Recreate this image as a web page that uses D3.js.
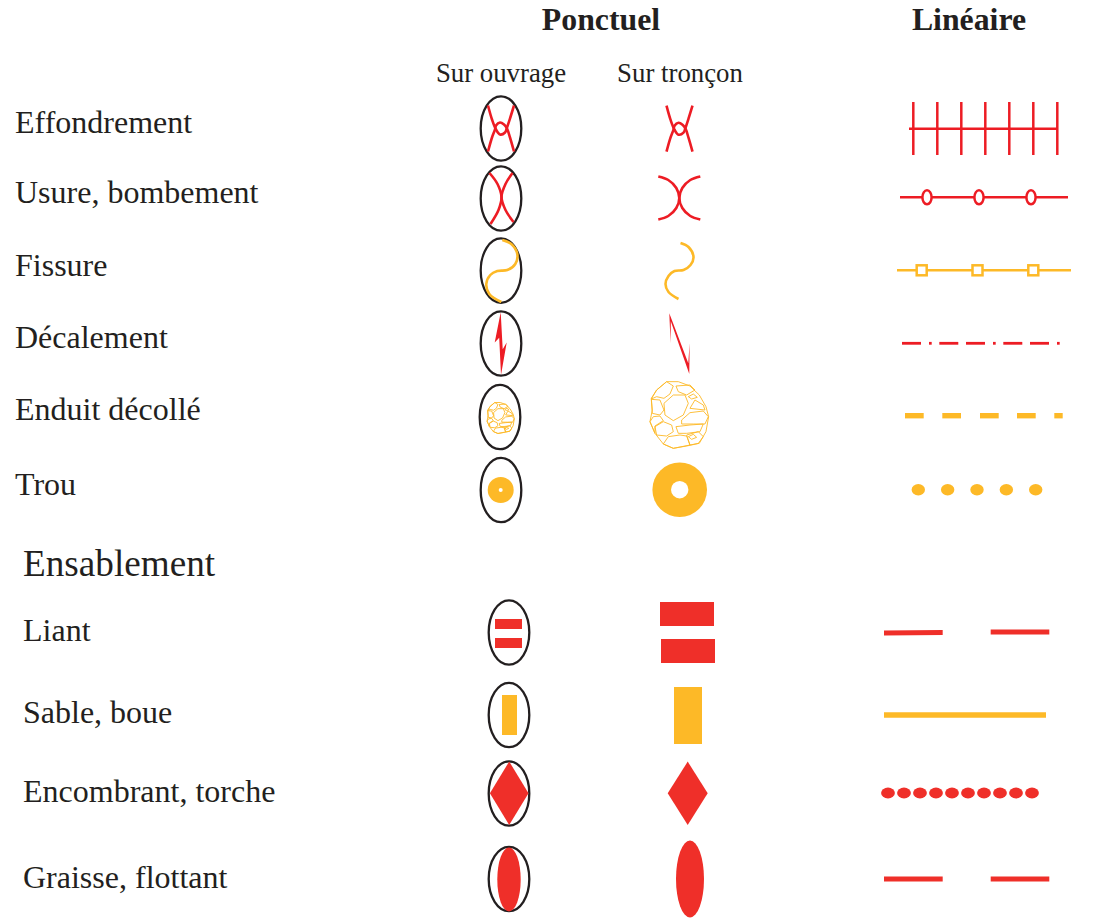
<!DOCTYPE html>
<html><head><meta charset="utf-8">
<script src="https://cdn.jsdelivr.net/npm/d3@7/dist/d3.min.js"></script>
<style>html,body{margin:0;padding:0;background:#fff}svg{display:block}text{font-family:"Liberation Serif",serif;fill:#231f20}</style>
</head><body><svg id="c" width="1113" height="923"></svg>
<script>
// ---- content
const groupHeaders = ["Ponctuel", "Linéaire"];
const subHeaders = ["Sur ouvrage", "Sur tronçon"];
const upperRows = ["Effondrement", "Usure, bombement", "Fissure", "Décalement", "Enduit décollé", "Trou"];
const sectionTitle = "Ensablement";
const lowerRows = ["Liant", "Sable, boue", "Encombrant, torche", "Graisse, flottant"];

const RED = "#ed1c24", FILLRED = "#ef2f29", YEL = "#fdb927", INK = "#231f20";

// ---- scales (picture layout)
const rowY = d3.scaleOrdinal([...upperRows, ...lowerRows],
  [128.5, 198.5, 270.6, 343.5, 417, 490, 632.5, 715, 793.5, 879]);
const labelBase = d3.scaleOrdinal([...upperRows, ...lowerRows],
  [133, 203, 276, 348, 420, 495, 641, 723, 802, 888]);
const ovalX = r => upperRows.includes(r) ? 501 : 509;
const svg = d3.select("#c");
const smooth = d3.line().curve(d3.curveCatmullRom.alpha(0.5));
const closed = d3.line().curve(d3.curveLinearClosed);
const roundClosed = d3.line().curve(d3.curveCatmullRomClosed.alpha(0.5));

// ---- texts
svg.selectAll(".gh").data(groupHeaders).join("text")
  .attr("x", (d,i)=>[601,969][i]).attr("y",30).attr("text-anchor","middle")
  .attr("font-weight","bold").attr("font-size",31.8).text(d=>d);
svg.selectAll(".sh").data(subHeaders).join("text")
  .attr("x", (d,i)=>[501,680][i]).attr("y",82).attr("text-anchor","middle")
  .attr("font-size",26.8).text(d=>d);
svg.selectAll(".rl").data([...upperRows, ...lowerRows]).join("text")
  .attr("x", d=>upperRows.includes(d)?15:23).attr("y", d=>labelBase(d))
  .attr("font-size",32).text(d=>d);
svg.append("text").attr("x",23).attr("y",576).attr("font-size",37.2).text(sectionTitle);

// ---- ovals
svg.selectAll(".ov").data([...upperRows, ...lowerRows]).join("ellipse")
  .attr("cx", d=>d==="Enduit décollé"?500:ovalX(d)).attr("cy", d=>rowY(d)).attr("rx",20.3).attr("ry",32.2)
  .attr("fill","none").attr("stroke",INK).attr("stroke-width",2.3);

// ---- glyph helpers
const g = (x,y,s=1)=>svg.append("g").attr("transform",`translate(${x},${y}) scale(${s})`);
const stroke = (sel,c,w)=>sel.attr("fill","none").attr("stroke",c).attr("stroke-width",w);
const GW = 2.6;

// Effondrement: local px around loop centre
const xA = [[-13,-23],[-9,-9],[-5,1],[-1,6],[4,4],[6,-1],[9,-10],[13,-23]];
const xB = [[13,23],[9,9],[6,0],[3,-4],[-1,-6],[-5,-3],[-6,1],[-9,9],[-13,23]];
[[501,128.5],[679.5,128.7]].forEach(([x,y])=>{
  [xA,xB].forEach(p=>stroke(g(x,y).append("path").attr("d",smooth(p)),RED,GW));
});
// Usure
const uOvalL=[[-12,-24],[-4,-13],[0,0],[-3,13],[-11,27]], uOvalR=[[11,-24],[4,-13],[0,0],[4,13],[12,25]];
[uOvalL,uOvalR].forEach(p=>stroke(g(501.5,197).append("path").attr("d",smooth(p)),RED,GW));
const uTrL=[[-21,-21.5],[-11,-18],[-3,-10],[0,0],[-3,10],[-11,18],[-21,21.5]];
const uTrR=[[21,-21.5],[11,-18],[3,-10],[0,0],[3,10],[11,18],[21,21.5]];
[uTrL,uTrR].forEach(p=>stroke(g(679.3,198).append("path").attr("d",smooth(p)),RED,GW));
// Fissure
const fOv=[[1,-31],[10,-27],[16,-17],[14,-7],[6,-1],[-4,0],[-11,4],[-15,13],[-12,23],[0,31]];
stroke(g(501.3,271).append("path").attr("d",smooth(fOv)),YEL,GW);
const fTr=[[1,-28],[9,-24],[14,-14],[11,-6],[4,-1],[-5,0],[-11,5],[-14,13],[-11,21],[-1,28]];
stroke(g(679.5,271).append("path").attr("d",smooth(fTr)),YEL,GW);
// Décalement
const zOv=[[0,0],[-6,30.3],[-1.5,25.5],[0.3,62.7],[6,30.3],[2,37]];
g(500.7,312.3).append("path").attr("d",closed(zOv)).attr("fill",RED);
const zTr=[[0,0],[1.3,30],[1.5,8],[20,60.7],[20.3,29.7],[19,50]];
g(669.3,313.3).append("path").attr("d",closed(zTr)).attr("fill",RED);
// Enduit décollé: cell outlines in 1/3 px units
const cells=[
 [[-38,-100],[-18,-87],[-28,-63],[-46,-50],[-68,-55],[-84,-48],[-68,-75]],
 [[-46,-35],[-18,-60],[17,-60],[27,-35],[12,0],[-18,17],[-43,0]],
 [[-10,-87],[32,-90],[47,-75],[22,-60],[-3,-70]],
 [[-84,-47],[-58,-45],[-46,-15],[-58,0],[-81,-5]],
 [[32,-20],[47,-45],[72,-30],[77,-15]],
 [[7,15],[32,-7],[72,-12],[87,5],[77,27],[42,27],[7,27]],
 [[-73,35],[-48,20],[-23,30],[-18,50],[-38,63],[-68,60]],
 [[-10,35],[32,30],[72,27],[62,50],[22,55],[-3,55]],
 [[-48,87],[-33,65],[2,60],[22,63],[32,90],[-18,100]],
 [[22,60],[57,50],[72,65],[57,85],[32,90]],
 [[27,65],[42,58],[52,67],[37,73]],
 [[27,-55],[42,-63],[54,-53],[37,-48]],
 [[-88,20],[-78,5],[-58,3],[-48,17],[-73,33],[-73,55]]
];
const outer=[[-38,-100],[-3,-100],[32,-87],[60,-60],[80,-25],[88,5],[80,50],[60,85],[22,93],[-18,100],[-48,87],[-73,55],[-88,20],[-81,-15],[-84,-50],[-68,-75]];
[[679.3,415,1/3,0.9],[500.7,418,0.155,0.9]].forEach(([x,y,s,w])=>{
  const gg=g(x,y,s);
  [outer,...cells].forEach(c=>gg.append("path").attr("d",closed(c)).attr("fill","none").attr("stroke",YEL).attr("stroke-width",w/s));
});
// Trou
[[500.7,490,13,2],[679.7,489.7,27.3,8.7]].forEach(([x,y,r,h])=>{
  svg.append("circle").attr("cx",x).attr("cy",y).attr("r",r).attr("fill",YEL);
  svg.append("circle").attr("cx",x).attr("cy",y).attr("r",h).attr("fill","#fff");
});
// Liant
[[495,619,27,10],[495,638,27,10],[660,602,54,24],[661,639,54,24]].forEach(r=>
  svg.append("rect").attr("x",r[0]).attr("y",r[1]).attr("width",r[2]).attr("height",r[3]).attr("fill",FILLRED));
// Sable
[[502,695,15,40],[674,687,28,57]].forEach(r=>
  svg.append("rect").attr("x",r[0]).attr("y",r[1]).attr("width",r[2]).attr("height",r[3]).attr("fill",YEL));
// Encombrant
const dia=(w,h)=>[[0,-h],[w,0],[0,h],[-w,0]];
[[509.2,793.3,19.3,31.8],[687.7,793.3,20,31.7]].forEach(([x,y,w,h])=>
  g(x,y).append("path").attr("d",closed(dia(w,h))).attr("fill",FILLRED));
// Graisse
[[509,879.5,11.7,32],[690,879,14,38.5]].forEach(([x,y,rx,ry])=>
  svg.append("ellipse").attr("cx",x).attr("cy",y).attr("rx",rx).attr("ry",ry).attr("fill",FILLRED));

// ---- linear column
const hseg=(x1,x2,y,c,w)=>svg.append("line").attr("x1",x1).attr("x2",x2).attr("y1",y).attr("y2",y).attr("stroke",c).attr("stroke-width",w);
// Effondrement
hseg(909,1058,128.7,RED,2.5);
const tickX=d3.scaleLinear([0,6],[913.3,1057.3]);
d3.range(7).forEach(i=>svg.append("line").attr("x1",tickX(i)).attr("x2",tickX(i)).attr("y1",102).attr("y2",155).attr("stroke",RED).attr("stroke-width",2.5));
// Usure
hseg(900,1068,197.3,RED,2.5);
const ringX=d3.scaleLinear([0,2],[927,1031]);
d3.range(3).forEach(i=>svg.append("ellipse").attr("cx",ringX(i)).attr("cy",197.3).attr("rx",4.6).attr("ry",7).attr("fill","#fff").attr("stroke",RED).attr("stroke-width",2.5));
// Fissure
hseg(897,1071,270.3,YEL,2.5);
const sqX=d3.scaleLinear([0,2],[921.7,1033.3]);
d3.range(3).forEach(i=>svg.append("rect").attr("x",sqX(i)-5).attr("y",265.3).attr("width",10).attr("height",10).attr("fill","#fff").attr("stroke",YEL).attr("stroke-width",2.5));
// Décalement: dash-dot pattern
[[902,921],[929,931.7],[939.3,958.3],[966,985],[993,995.7],[1003.3,1022.3],[1030,1049],[1057,1059.7]]
  .forEach(([a,b])=>hseg(a,b,343.3,RED,2.8));
// Enduit
[[905,923.7],[942.3,961],[980,998.7],[1017,1035.7],[1054.3,1062.7]].forEach(([a,b])=>hseg(a,b,415.7,YEL,5.4));
// Trou
const dotX=d3.scaleLinear([0,4],[918.3,1035.7]);
d3.range(5).forEach(i=>svg.append("ellipse").attr("cx",dotX(i)).attr("cy",489.7).attr("rx",6.7).attr("ry",5.7).attr("fill",YEL));
// Liant
svg.append("line").attr("x1",884).attr("x2",942.7).attr("y1",632.9).attr("y2",632.4).attr("stroke",FILLRED).attr("stroke-width",5);
svg.append("line").attr("x1",990.7).attr("x2",1049.3).attr("y1",632.1).attr("y2",631.9).attr("stroke",FILLRED).attr("stroke-width",5);
// Sable
hseg(884,1046,715,YEL,5.5);
// Encombrant
const beadX=d3.scaleLinear([0,9],[888,1032]);
d3.range(10).forEach(i=>svg.append("ellipse").attr("cx",beadX(i)).attr("cy",793).attr("rx",6.9).attr("ry",5.4).attr("fill",FILLRED));
// Graisse
hseg(884,942.7,879,FILLRED,5); hseg(990.7,1049.3,879,FILLRED,5);
</script></body></html>
